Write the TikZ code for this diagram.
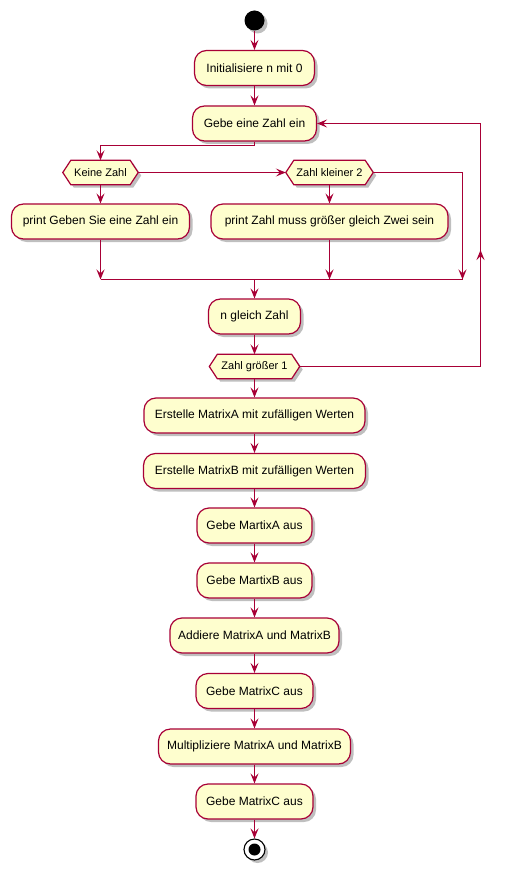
\documentclass[tikz,border=0pt]{standalone}
\usepackage{fontspec}
\setmainfont{Liberation Sans}
\usetikzlibrary{arrows.meta,shadows}
\definecolor{pborder}{HTML}{A80036}
\definecolor{pfill}{HTML}{FEFECE}
\begin{document}
\begin{tikzpicture}[x=1pt,y=-1pt,
  shad/.style={drop shadow={shadow xshift=3pt,shadow yshift=-3pt,fill=black,opacity=0.25}},
  act/.style={draw=pborder,fill=pfill,line width=1.2pt,rounded corners=12pt,
    minimum height=35pt,inner sep=0pt,font=\fontsize{12}{14}\selectfont,shad},
  hexbox/.style={draw=none,minimum height=24pt,inner sep=0pt,font=\fontsize{11}{13}\selectfont},
  hexline/.style={draw=pborder,fill=pfill,line width=1.2pt,shad},
  flow/.style={draw=pborder,line width=1.2pt},
  arr/.style={flow,-{Stealth[length=10pt,width=8pt,inset=4pt]}}
]
\useasboundingbox[fill=white] (0,0) rectangle (505,877);

% start
\node[circle,fill=black,minimum size=20pt,inner sep=0pt,shad] (start) at (254.5,20.5) {};

\node[act,minimum width=120pt] (init) at (254.5,68) {Initialisiere n mit 0};
\node[act,minimum width=124pt] (gebe) at (254.5,123.5) {Gebe eine Zahl ein};

% hexagons
\node[hexbox,minimum width=75pt] (keine) at (100.5,172.5) {};
\node[hexbox,minimum width=87pt] (kleiner) at (329.5,172.5) {};
\node[hexbox,minimum width=90pt] (groesser) at (254.5,366.5) {};
\foreach \h in {keine,kleiner,groesser}{
  \draw[hexline] ([xshift=8pt]\h.north west) -- ([xshift=-8pt]\h.north east) -- (\h.east)
    -- ([xshift=-8pt]\h.south east) -- ([xshift=8pt]\h.south west) -- (\h.west) -- cycle;
}
\node[font=\fontsize{11}{13}\selectfont] at (keine) {Keine Zahl};
\node[font=\fontsize{11}{13}\selectfont] at (kleiner) {Zahl kleiner 2};
\node[font=\fontsize{11}{13}\selectfont] at (groesser) {Zahl größer 1};

\node[act,minimum width=178pt] (pg) at (100.5,221.5) {print Geben Sie eine Zahl ein};
\node[act,minimum width=237pt] (pz) at (329.5,221.5) {print Zahl muss größer gleich Zwei sein};
\node[act,minimum width=92pt] (ngz) at (254.5,316.5) {n gleich Zahl};

\node[act,minimum width=221pt] (ea) at (254.5,415.5) {Erstelle MatrixA mit zufälligen Werten};
\node[act,minimum width=222pt] (eb) at (254.5,471) {Erstelle MatrixB mit zufälligen Werten};
\node[act,minimum width=115pt] (ga) at (254.5,525.5) {Gebe MartixA aus};
\node[act,minimum width=115pt] (gb) at (254.5,580.5) {Gebe MartixB aus};
\node[act,minimum width=169pt] (add) at (254.5,635.5) {Addiere MatrixA und MatrixB};
\node[act,minimum width=117pt] (gc1) at (254.5,691) {Gebe MatrixC aus};
\node[act,minimum width=192pt] (mul) at (254.5,746.5) {Multipliziere MatrixA und MatrixB};
\node[act,minimum width=117pt] (gc2) at (254.5,801.5) {Gebe MatrixC aus};

% stop
\node[circle,draw=black,line width=1.1pt,fill=white,minimum size=21pt,inner sep=0pt,shad] (stop) at (254.5,849.5) {};
\node[circle,fill=black,minimum size=12pt,inner sep=0pt] (stopin) at (stop) {};

% coordinates
\coordinate (b1) at (254.5,145.5);
\coordinate (m) at (254.5,279.5);
\coordinate (r) at (462.5,279.5);
\coordinate (lb) at (480.5,366.5);
\coordinate (lm) at (480.5,250);
\coordinate (lt) at (480.5,123.5);

% connectors
\draw[arr] (start) -- (init);
\draw[arr] (init) -- (gebe);
\draw[arr] (gebe.south) -- (b1) -| (keine.north);
\draw[arr] (keine.east) -- (kleiner.west);
\draw[arr] (keine.south) -- (pg.north);
\draw[arr] (kleiner.south) -- (pz.north);
\draw[arr] (pg.south) -- (pg.south |- m);
\draw[arr] (pz.south) -- (pz.south |- m);
\draw[arr] (kleiner.east) -| (r);
\draw[flow] (pg.south |- m) -- (r);
\draw[arr] (m) -- (ngz.north);
\draw[arr] (ngz) -- (groesser.north);
\draw[flow] (groesser.east) -- (lb) -- (lt);
\draw[arr] (lb) -- (lm);
\draw[arr] (lt) -- (gebe.east);
\draw[arr] (groesser.south) -- (ea.north);
\draw[arr] (ea) -- (eb);
\draw[arr] (eb) -- (ga);
\draw[arr] (ga) -- (gb);
\draw[arr] (gb) -- (add);
\draw[arr] (add) -- (gc1);
\draw[arr] (gc1) -- (mul);
\draw[arr] (mul) -- (gc2);
\draw[arr] (gc2) -- (stop);
\end{tikzpicture}
\end{document}
